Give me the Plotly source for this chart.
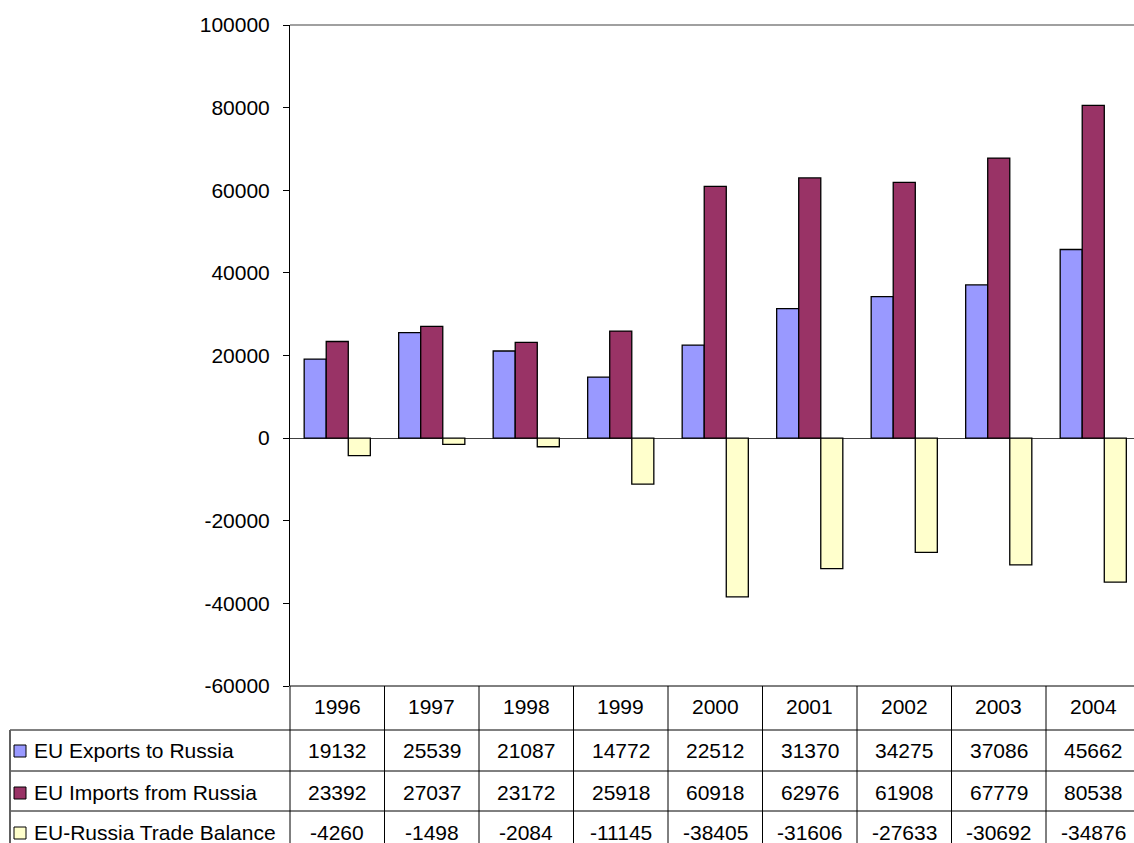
import plotly.graph_objects as go

years = ["1996", "1997", "1998", "1999", "2000", "2001", "2002", "2003", "2004"]
exports = [19132, 25539, 21087, 14772, 22512, 31370, 34275, 37086, 45662]
imports = [23392, 27037, 23172, 25918, 60918, 62976, 61908, 67779, 80538]
balance = [-4260, -1498, -2084, -11145, -38405, -31606, -27633, -30692, -34876]
series_names = ["EU Exports to Russia", "EU Imports from Russia", "EU-Russia Trade Balance"]
series_colors = ["#9999FF", "#993366", "#FFFFCC"]
series_values = [exports, imports, balance]
y_ticks = [-60000, -40000, -20000, 0, 20000, 40000, 60000, 80000, 100000]

W, H = 1134, 843
L, R, T, B = 290, 0, 25, 157
PW = W - L - R
PH = H - T - B
CAT = 94.5  # px per category
FONT = "Arial, Liberation Sans, sans-serif"
FS = 21

def px(p):
    return (p - L) / PW

def py(p):
    return (H - B - p) / PH

xs = list(range(len(years)))
fig = go.Figure()
for name, col, vals in zip(series_names, series_colors, series_values):
    fig.add_trace(go.Bar(x=xs, y=vals, name=name, marker=dict(color=col, line=dict(color="black", width=1.3)),
                         showlegend=False))

x_hi = -0.5 + PW / CAT
fig.update_layout(
    width=W, height=H, margin=dict(l=L, r=R, t=T, b=B),
    paper_bgcolor="white", plot_bgcolor="white",
    barmode="group", bargap=0.3, bargroupgap=0,
    font=dict(family=FONT, size=FS, color="black"),
    xaxis=dict(range=[-0.5, x_hi], showticklabels=False, showgrid=False, zeroline=False,
               showline=False, ticks=""),
    yaxis=dict(range=[-60000, 100000], tickvals=y_ticks, ticktext=[str(v) for v in y_ticks],
               showgrid=False, zeroline=True, zerolinecolor="#404040", zerolinewidth=1,
               showline=True, linecolor="black", linewidth=1, ticks="outside", ticklen=6,
               tickcolor="black", ticklabelstandoff=9, tickfont=dict(size=FS, family=FONT)),
)

shapes = []
line = dict(color="black", width=1)
# top border of plot area
shapes.append(dict(type="line", xref="paper", yref="paper", x0=0, x1=1, y0=1, y1=1,
                   line=dict(color="#808080", width=1.5)))
# table horizontal lines
shapes.append(dict(type="line", xref="paper", yref="paper", x0=px(L), x1=1, y0=py(686), y1=py(686), line=line))
for yy in [730, 771, 811]:
    shapes.append(dict(type="line", xref="paper", yref="paper", x0=px(10), x1=1, y0=py(yy), y1=py(yy), line=line))
# left border of label column
shapes.append(dict(type="line", xref="paper", yref="paper", x0=px(10), x1=px(10), y0=py(730), y1=py(843),
                   line=dict(color="#606060", width=2)))
# vertical lines of table
for i in range(len(years)):
    xp = L + i * CAT
    shapes.append(dict(type="line", xref="paper", yref="paper", x0=px(xp), x1=px(xp), y0=py(686), y1=py(843), line=line))

annotations = []
for i, yr in enumerate(years):
    annotations.append(dict(x=i, y=py(706), xref="x", yref="paper", text=yr, showarrow=False,
                            xanchor="center", yanchor="middle", font=dict(size=FS)))
row_y = [750, 792, 832]
for name, col, vals, ry in zip(series_names, series_colors, series_values, row_y):
    shapes.append(dict(type="rect", xref="paper", yref="paper", x0=px(14), x1=px(26), y0=py(ry + 7), y1=py(ry - 5),
                       fillcolor=col, line=dict(color="black", width=1)))
    annotations.append(dict(x=px(32), y=py(ry), xref="paper", yref="paper", text=name, showarrow=False,
                            xanchor="left", yanchor="middle", font=dict(size=FS)))
    for i, v in enumerate(vals):
        annotations.append(dict(x=i, y=py(ry), xref="x", yref="paper", text=str(v), showarrow=False,
                                xanchor="center", yanchor="middle", font=dict(size=FS)))

fig.update_layout(shapes=shapes, annotations=annotations)
fig.write_html("out.html")
